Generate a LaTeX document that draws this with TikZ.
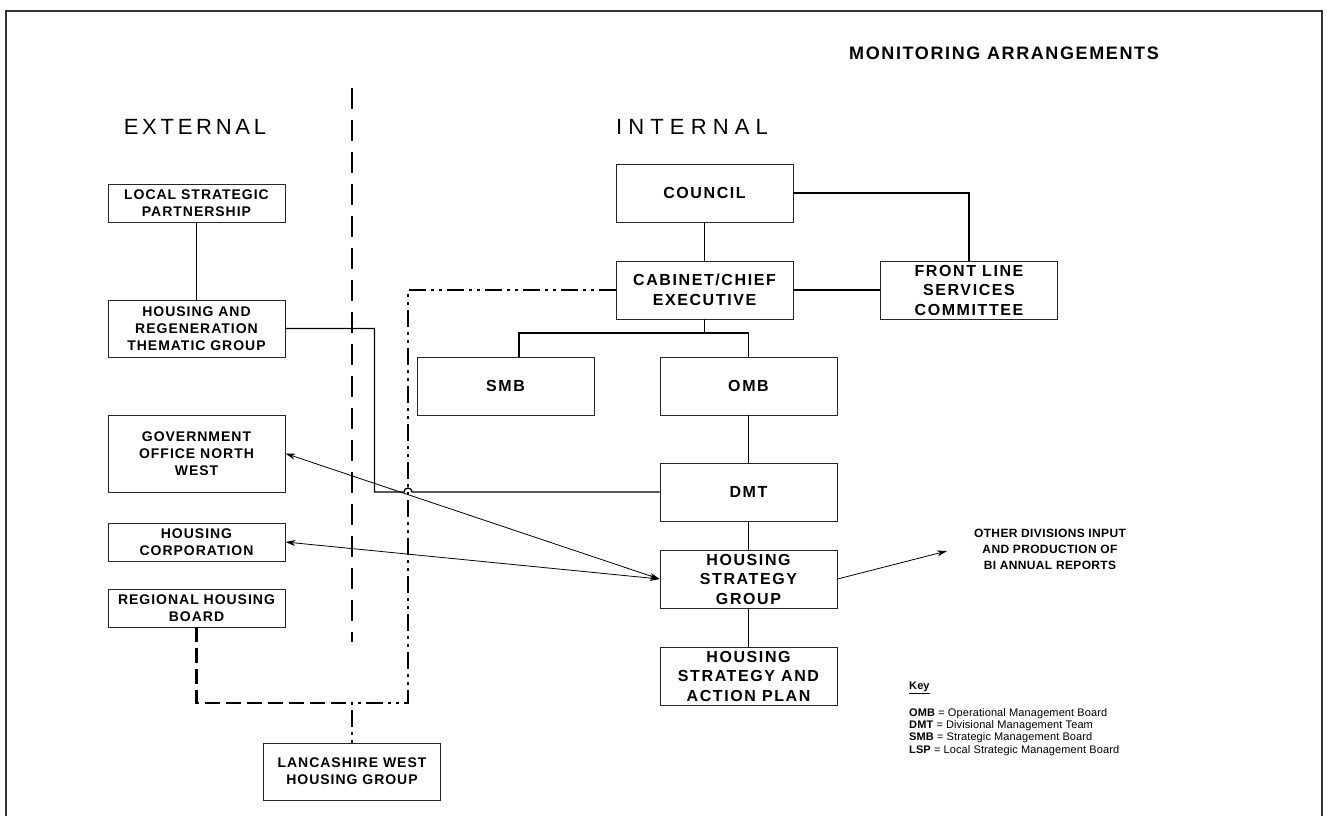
\documentclass[tikz,border=0pt]{standalone}
\usepackage{fontspec}
\setmainfont{Liberation Sans}
\newfontfamily\leftfont[LetterSpace=7]{Liberation Sans}
\newfontfamily\rightfont[LetterSpace=10]{Liberation Sans}
\newfontfamily\titlefont[LetterSpace=9]{Liberation Sans}
\newfontfamily\sidefont[LetterSpace=17]{Liberation Sans}
\newfontfamily\widefont[LetterSpace=28]{Liberation Sans}
\newfontfamily\notefont[LetterSpace=3]{Liberation Sans}
\newfontfamily\keyfont[LetterSpace=1]{Liberation Sans}
\usetikzlibrary{arrows.meta}

\begin{document}
\begin{tikzpicture}[x=1pt, y=-1pt,
    box/.style={draw=black!85, line width=0.9pt, rectangle, inner sep=0pt, minimum width=177pt, align=center},
    leftbox/.style={box, font=\leftfont\bfseries\fontsize{14}{16.7}\selectfont},
    rightbox/.style={box, minimum height=58pt, font=\rightfont\bfseries\fontsize{16}{19.5}\selectfont},
    conn/.style={line width=1.3pt},
    arr/.style={line width=0.8pt, {Stealth[length=10pt,width=6pt]}-{Stealth[length=10pt,width=6pt]}},
    arrone/.style={line width=0.8pt, -{Stealth[length=10pt,width=6pt]}},
    divider/.style={line width=2.6pt, dash pattern=on 21pt off 11pt},
    dashline/.style={line width=2.4pt, dash pattern=on 15pt off 6pt},
    dashdotline/.style={line width=2.4pt, dash pattern=on 17pt off 5pt on 3pt off 5pt on 3pt off 5pt}]

    \useasboundingbox (0,0) rectangle (1327,816);

    % Outer frame (open at the bottom)
    \draw[line width=1.2pt, black!80] (6,816) -- (6,11) -- (1322,11) -- (1322,816);

    % Headings
    \node[font=\titlefont\bfseries\fontsize{18}{20}\selectfont] (title) at (1004,53) {MONITORING ARRANGEMENTS};
    \node[font=\sidefont\fontsize{22}{24}\selectfont] (ext) at (195,127) {EXTERNAL};
    \node[font=\widefont\fontsize{22}{24}\selectfont] (int) at (692,127) {INTERNAL};

    % Line between external and internal
    \draw[divider] (352,88) -- (352,642);

    % External bodies
    \node[leftbox, minimum height=38pt] (lsp) at (196.5,203) {LOCAL STRATEGIC\\PARTNERSHIP};
    \node[leftbox, minimum height=57pt] (hrtg) at (196.5,328.5) {HOUSING AND\\REGENERATION\\THEMATIC GROUP};
    \node[leftbox, minimum height=77pt] (gonw) at (196.5,453.5) {GOVERNMENT\\OFFICE NORTH\\WEST};
    \node[leftbox, minimum height=38pt] (hc) at (196.5,542) {HOUSING\\CORPORATION};
    \node[leftbox, minimum height=38pt] (rhb) at (196.5,608) {REGIONAL HOUSING\\BOARD};
    \node[leftbox, minimum height=57pt] (lwhg) at (352,771.5) {LANCASHIRE WEST\\HOUSING GROUP};

    % Internal bodies
    \node[rightbox] (council) at (704.5,193) {COUNCIL};
    \node[rightbox] (cab) at (704.5,290) {CABINET/CHIEF\\EXECUTIVE};
    \node[rightbox] (flsc) at (969,290) {FRONT LINE\\SERVICES\\COMMITTEE};
    \node[rightbox] (smb) at (505.5,386) {SMB};
    \node[rightbox] (omb) at (748.5,386) {OMB};
    \node[rightbox] (dmt) at (748.5,492) {DMT};
    \node[rightbox] (hsg) at (748.5,579) {HOUSING\\STRATEGY\\GROUP};
    \node[rightbox] (hsap) at (748.5,676) {HOUSING\\STRATEGY AND\\ACTION PLAN};

    % Solid links
    \draw[conn] (lsp) -- (hrtg);
    \draw[conn] (council) -- (cab);
    \draw[conn] (council.east) -| (flsc.north);
    \draw[conn] (cab) -- (flsc);
    \coordinate (busL) at (519,333);
    \coordinate (busR) at (748.5,333);
    \draw[conn] (cab.south) -- (cab.south |- busL);
    \draw[conn] (smb.north -| busL) -- (busL) -- (busR) -- (omb.north);
    \draw[conn] (omb) -- (dmt);
    \draw[conn] (dmt) -- (hsg);
    \draw[conn] (hsg) -- (hsap);

    % Thematic group to DMT, hopping over the dash-dot line
    \coordinate (hopL) at (404,492);
    \draw[conn] (hrtg.east) -- ++(89,0) |- (hopL) arc[start angle=180, end angle=360, radius=4] -- (dmt.west);

    % Lancashire West links
    \coordinate (ddturn) at (408,703);
    \coordinate (jn) at (352,703);
    \draw[dashdotline] (cab.west) -| (ddturn) -- (jn) -- (lwhg.north);
    \draw[dashline] (rhb.south) |- (jn);

    % Two-way arrows to the strategy group
    \draw[arr] (gonw.east) -- (hsg.west);
    \draw[arr] (hc.east) -- (hsg.west);

    % Other divisions
    \coordinate (othtip) at (947,551);
    \draw[arrone] (hsg.east) -- (othtip);
    \node[font=\notefont\bfseries\fontsize{12}{16}\selectfont, align=center] (other) at (1050,549) {OTHER DIVISIONS INPUT\\AND PRODUCTION OF\\BI ANNUAL REPORTS};

    % Key
    \node[anchor=west, inner sep=0pt, font=\keyfont\bfseries\fontsize{11}{12}\selectfont] (keyhead) at (909,688) {\underline{Key}};
    \node[anchor=north west, inner sep=0pt, align=left, font=\keyfont\fontsize{11}{12.3}\selectfont] (keybody) at (909,708)
        {\textbf{OMB} = Operational Management Board\\
         \textbf{DMT} = Divisional Management Team\\
         \textbf{SMB} = Strategic Management Board\\
         \textbf{LSP} = Local Strategic Management Board};
\end{tikzpicture}
\end{document}
